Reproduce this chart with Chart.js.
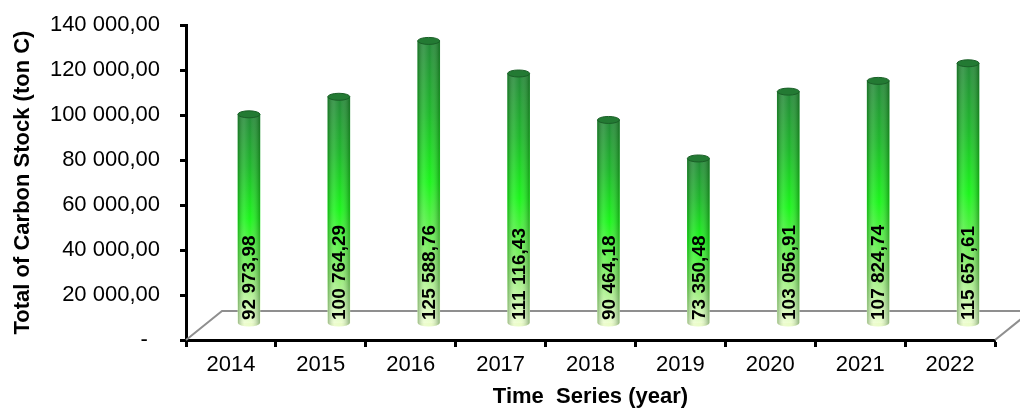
<!DOCTYPE html>
<html>
<head>
<meta charset="utf-8">
<script src="https://cdn.jsdelivr.net/npm/chart.js@4.4.1/dist/chart.umd.min.js"></script>
<style>
  html, body { margin: 0; padding: 0; background: #fff; }
</style>
</head>
<body>
<canvas id="chart" width="1020" height="412"></canvas>
<script>
const years = ['2014', '2015', '2016', '2017', '2018', '2019', '2020', '2021', '2022'];
const carbonStock = [92973.98, 100764.29, 125588.76, 111116.43, 90464.18, 73350.48, 103056.91, 107824.74, 115657.61];
const yMax = 140000;
const yStep = 20000;

// 3D floor depth (px) - cylinders sit in the middle of it
const FX = 36, FY = 29;
const FONT = "'Liberation Sans', Arial, sans-serif";

function fmt(v) {
    const [i, d] = v.toFixed(2).split('.');
    return i.replace(/\B(?=(\d{3})+(?!\d))/g, ' ') + ',' + d;
}

const cylinder = {
    id: 'cylinder',
    beforeDatasetsDraw(chart) {
        const { ctx, chartArea: a } = chart;
        // floor outline
        ctx.save();
        ctx.strokeStyle = '#8f8f8f';
        ctx.lineWidth = 2;
        ctx.beginPath();
        ctx.moveTo(a.left, a.bottom);
        ctx.lineTo(a.left + FX, a.bottom - FY);
        ctx.lineTo(a.right + FX, a.bottom - FY);
        ctx.lineTo(a.right, a.bottom);
        ctx.stroke();
        ctx.restore();

        ctx.save();
        ctx.translate(FX / 2, -FY / 2 - 2);
    },
    afterDatasetsDraw(chart) {
        const ctx = chart.ctx;
        const meta = chart.getDatasetMeta(0);
        meta.data.forEach((el, i) => {
            const { x, y, base, width } = el.getProps(['x', 'y', 'base', 'width'], true);
            const l = x - width / 2, r = x + width / 2, ry = 3.5;

            // bottom cap
            ctx.beginPath();
            ctx.ellipse(x, base, width / 2, ry, 0, 0, Math.PI);
            ctx.fillStyle = '#eafcc8';
            ctx.fill();

            // round shading
            const hg = ctx.createLinearGradient(l, 0, r, 0);
            hg.addColorStop(0, 'rgba(0,60,0,0.35)');
            hg.addColorStop(0.3, 'rgba(255,255,255,0.12)');
            hg.addColorStop(0.55, 'rgba(255,255,255,0)');
            hg.addColorStop(1, 'rgba(0,60,0,0.4)');
            ctx.fillStyle = hg;
            ctx.fillRect(l, y, width, base - y);
            ctx.beginPath();
            ctx.ellipse(x, base, width / 2, ry, 0, 0, Math.PI);
            ctx.fill();

            // top cap
            ctx.beginPath();
            ctx.ellipse(x, y, width / 2, ry, 0, 0, 2 * Math.PI);
            ctx.fillStyle = '#237a33';
            ctx.fill();
            ctx.strokeStyle = '#1a5f27';
            ctx.lineWidth = 1;
            ctx.stroke();

            // value label
            ctx.save();
            ctx.translate(x + 1, base - 3);
            ctx.rotate(-Math.PI / 2);
            ctx.font = 'bold 19px ' + FONT;
            ctx.fillStyle = '#000';
            ctx.textAlign = 'left';
            ctx.textBaseline = 'middle';
            ctx.fillText(fmt(carbonStock[i]), 0, 0);
            ctx.restore();
        });
        ctx.restore();
    }
};

new Chart(document.getElementById('chart'), {
    type: 'bar',
    data: {
        labels: years,
        datasets: [{
            data: carbonStock,
            barThickness: 22,
            borderWidth: 0,
            clip: false,
            backgroundColor(c) {
                const chart = c.chart;
                if (!chart.chartArea || c.raw === undefined) return '#22dd22';
                const ys = chart.scales.y;
                const top = ys.getPixelForValue(c.raw);
                const base = ys.getPixelForValue(0);
                const g = chart.ctx.createLinearGradient(0, top, 0, base);
                g.addColorStop(0, '#268a3a');
                g.addColorStop(0.25, '#1fb82c');
                g.addColorStop(0.5, '#1cf51c');
                g.addColorStop(0.78, '#8fec70');
                g.addColorStop(1, '#effed2');
                return g;
            }
        }]
    },
    options: {
        responsive: false,
        animation: false,
        devicePixelRatio: 1,
        layout: { padding: { top: 25, right: 25, left: 0, bottom: 0 } },
        plugins: { legend: { display: false }, tooltip: { enabled: false } },
        scales: {
            x: {
                grid: { drawOnChartArea: false, tickLength: 7, tickColor: '#000', tickWidth: 3, offset: true },
                border: { color: '#000', width: 3 },
                ticks: { color: '#000', font: { family: FONT, size: 22 }, padding: 5 },
                title: {
                    display: true, text: 'Time  Series (year)', color: '#000',
                    font: { family: FONT, size: 22, weight: 'bold' },
                    padding: { top: 0, bottom: 2 }
                },
                afterFit(s) { s.height = 72; s.paddingLeft = 0; s.paddingRight = 0; }
            },
            y: {
                min: 0, max: yMax,
                ticks: {
                    stepSize: yStep, color: '#000', padding: 20,
                    font: { family: FONT, size: 22 },
                    callback: v => v === 0 ? '-  ' : fmt(v)
                },
                grid: { drawOnChartArea: false, tickLength: 6, tickColor: '#000', tickWidth: 3 },
                border: { color: '#000', width: 3 },
                title: {
                    display: true, text: 'Total of Carbon Stock (ton C)', color: '#000',
                    font: { family: FONT, size: 22, weight: 'bold' },
                    padding: { top: 10, bottom: 0 }
                },
                afterFit(s) { s.width = 186; s.paddingTop = 0; s.paddingBottom = 0; }
            }
        }
    },
    plugins: [cylinder]
});
</script>
</body>
</html>
